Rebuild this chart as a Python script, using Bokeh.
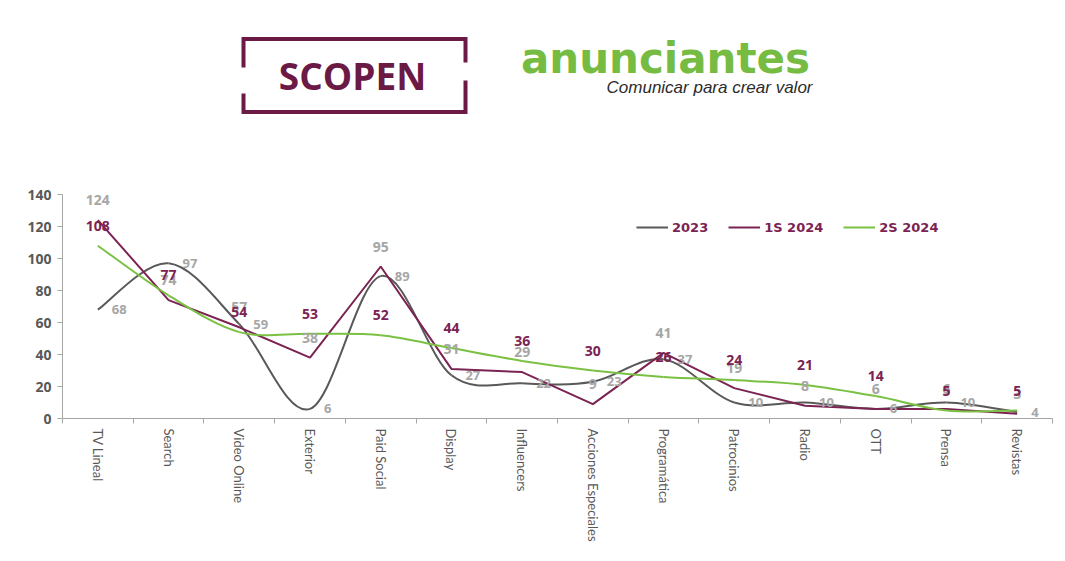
import numpy as np
from bokeh.plotting import figure
from bokeh.models import (Range1d, FixedTicker, LinearAxis, Legend, LegendItem,
                          ColumnDataSource)
from bokeh.layouts import column
from bokeh.embed import file_html
from bokeh.resources import INLINE
from bokeh.core.properties import value

# ---------------- data ----------------
categories = ["TV Lineal", "Search", "Video Online", "Exterior", "Paid Social",
              "Display", "Influencers", "Acciones Especiales", "Programática",
              "Patrocinios", "Radio", "OTT", "Prensa", "Revistas"]
s2023 = [68, 97, 59, 6, 89, 27, 22, 23, 37, 10, 10, 6, 10, 4]
s1s2024 = [124, 74, 57, 38, 95, 31, 29, 9, 41, 19, 8, 6, 6, 3]
s2s2024 = [108, 77, 54, 53, 52, 44, 36, 30, 26, 24, 21, 14, 5, 5]
series_names = ["2023", "1S 2024", "2S 2024"]
y_ticks = [0, 20, 40, 60, 80, 100, 120, 140]

GRAY = "#595959"
PURPLE = "#7b2352"
GREEN = "#7ac143"
LABEL_GRAY = "#a6a6a6"
AXIS_GRAY = "#a6a6a6"

n = len(categories)
xc = [i + 0.5 for i in range(n)]
bounds = list(range(n + 1))

# layout geometry (pixels)
LEFT = 62
FRAME_W = 990
RIGHT = 8
H_HEAD = 186

# ---------------- header (logos) ----------------
head = figure(frame_width=FRAME_W, height=H_HEAD,
              x_range=Range1d(LEFT, LEFT + FRAME_W), y_range=Range1d(H_HEAD, 0),
              x_axis_type=None, y_axis_type=None, toolbar_location=None,
              output_backend="svg", min_border=0, min_border_left=LEFT,
              min_border_right=RIGHT)
head.grid.visible = False
head.outline_line_color = None

LOGO_PURPLE = "#6b1a45"
head.multi_line(xs=[[243, 243, 465, 465], [243, 243, 465, 465]],
                ys=[[67, 38.5, 38.5, 62], [93, 111.5, 111.5, 80]],
                line_color=LOGO_PURPLE, line_width=4, line_join="miter")
head.text(x=[352], y=[75], text=["SCOPEN"], text_align="center", text_baseline="middle",
          text_font=value("Open Sans"), text_font_style="bold", text_font_size="37px",
          text_color=LOGO_PURPLE)
head.text(x=[665], y=[58], text=["anunciantes"], text_align="center",
          text_baseline="alphabetic", text_font=value("DejaVu Sans"),
          text_font_style="bold", text_font_size="42px", text_color="#76bc43")
head.text(x=[812], y=[87], text=["Comunicar para crear valor"], text_align="right",
          text_baseline="alphabetic", text_font=value("Liberation Sans"),
          text_font_style="italic", text_font_size="17px", text_color="#2b2b2b")

# ---------------- chart ----------------
p = figure(frame_width=FRAME_W, frame_height=232, x_range=Range1d(0, n),
           y_range=Range1d(0, 145), x_axis_type=None, y_axis_type=None,
           toolbar_location=None, output_backend="svg", min_border_left=LEFT,
           min_border_right=RIGHT, min_border_top=0, min_border_bottom=141)
p.grid.visible = False
p.outline_line_color = None

xaxis = LinearAxis(ticker=FixedTicker(ticks=xc, minor_ticks=bounds),
                   major_label_overrides={x: c for x, c in zip(xc, categories)})
xaxis.major_label_orientation = "vertical"
xaxis.major_label_text_font = "Lato"
xaxis.major_label_text_font_size = "13px"
xaxis.major_label_text_color = GRAY
xaxis.major_label_standoff = 4
xaxis.major_tick_line_color = None
xaxis.minor_tick_line_color = AXIS_GRAY
xaxis.minor_tick_out = 5
xaxis.minor_tick_in = 0
xaxis.axis_line_color = AXIS_GRAY
p.add_layout(xaxis, "below")

yaxis = LinearAxis(ticker=FixedTicker(ticks=y_ticks), bounds=(0, 140))
yaxis.major_label_text_font = "Open Sans"
yaxis.major_label_text_font_style = "bold"
yaxis.major_label_text_font_size = "14px"
yaxis.major_label_text_color = GRAY
yaxis.major_label_standoff = 6
yaxis.major_tick_out = 5
yaxis.major_tick_in = 0
yaxis.major_tick_line_color = AXIS_GRAY
yaxis.minor_tick_line_color = None
yaxis.axis_line_color = AXIS_GRAY
p.add_layout(yaxis, "left")


def smooth_segments(xs, ys):
    P = np.column_stack([np.asarray(xs, float), np.asarray(ys, float)])
    prev = np.vstack([P[:1], P[:-1]])
    nxt = np.vstack([P[1:], P[-1:]])
    s0 = P[:-1]
    s1 = P[1:]
    c0 = s0 + (nxt[:-1] - prev[:-1]) / 6.0
    c1 = s1 - (nxt[1:] - prev[1:]) / 6.0
    return dict(x0=s0[:, 0], y0=s0[:, 1], x1=s1[:, 0], y1=s1[:, 1],
                cx0=c0[:, 0], cy0=c0[:, 1], cx1=c1[:, 0], cy1=c1[:, 1])


p.bezier(source=ColumnDataSource(smooth_segments(xc, s2023)), x0="x0", y0="y0",
         x1="x1", y1="y1", cx0="cx0", cy0="cy0", cx1="cx1", cy1="cy1",
         line_color=GRAY, line_width=2)
r_purple = p.line(xc, s1s2024, line_color=PURPLE, line_width=2)
p.bezier(source=ColumnDataSource(smooth_segments(xc, s2s2024)), x0="x0", y0="y0",
         x1="x1", y1="y1", cx0="cx0", cy0="cy0", cx1="cx1", cy1="cy1",
         line_color=GREEN, line_width=2)

# data labels
p.text(x=xc, y=s2023, text=[str(v) for v in s2023], text_align="left",
       text_baseline="middle", x_offset=14, text_font=value("Open Sans"),
       text_font_style="bold", text_font_size="13px", text_color=LABEL_GRAY)
p.text(x=xc, y=s1s2024, text=[str(v) for v in s1s2024], text_align="center",
       text_baseline="middle", y_offset=-20, text_font=value("Open Sans"),
       text_font_style="bold", text_font_size="14px", text_color=LABEL_GRAY)
p.text(x=xc, y=s2s2024, text=[str(v) for v in s2s2024], text_align="center",
       text_baseline="middle", y_offset=-20, text_font=value("Open Sans"),
       text_font_style="bold", text_font_size="14px", text_color=PURPLE)

# legend swatches (single-point lines draw nothing in the plot area)
lg_gray = p.line(x=xc[:1], y=s2023[:1], line_color=GRAY, line_width=2)
lg_green = p.line(x=xc[:1], y=s2s2024[:1], line_color=GREEN, line_width=2)
legend = Legend(items=[LegendItem(label=series_names[0], renderers=[lg_gray]),
                       LegendItem(label=series_names[1], renderers=[r_purple]),
                       LegendItem(label=series_names[2], renderers=[lg_green])],
                orientation="horizontal", location=(574, 183),
                glyph_width=32, glyph_height=16, label_standoff=4, spacing=20,
                padding=0, margin=0, background_fill_alpha=0, border_line_color=None,
                label_text_color=PURPLE, label_text_font="DejaVu Sans",
                label_text_font_style="bold", label_text_font_size="13px",
                label_height=16)
p.add_layout(legend)

layout = column(head, p)
open("out.html", "w").write(file_html(layout, INLINE))
